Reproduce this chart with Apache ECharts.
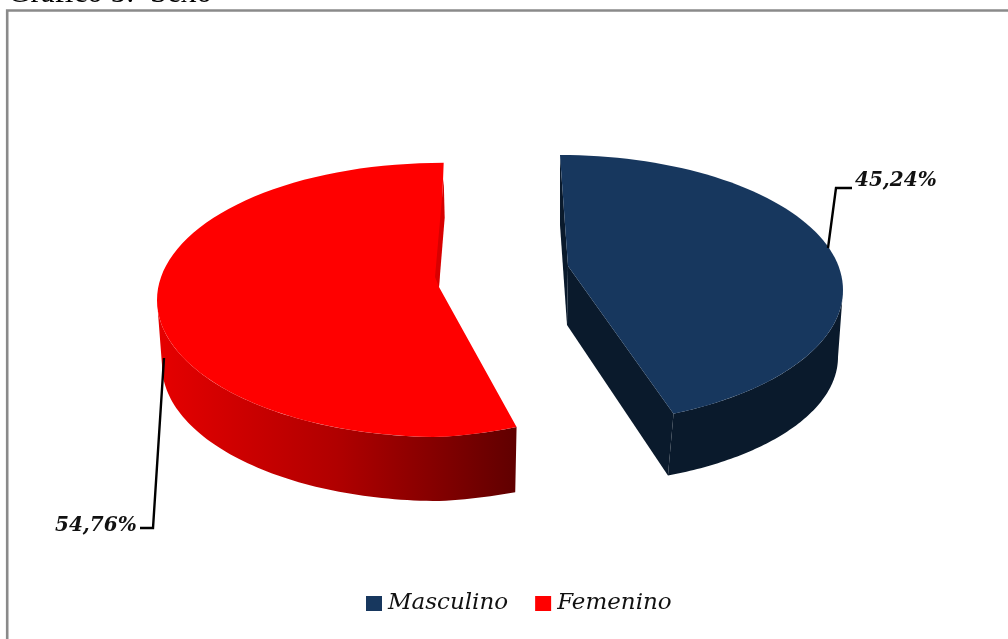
<!DOCTYPE html>
<html>
<head>
<meta charset="utf-8">
<style>html,body{margin:0;padding:0;background:#fff;overflow:hidden}#c{width:1008px;height:639px}</style>
<script src="https://cdn.jsdelivr.net/npm/echarts@6/dist/echarts.min.js"></script>
</head>
<body>
<div id="c"></div>
<script>
var categories = ['Masculino', 'Femenino'];
var values = [45.24, 54.76];
var colors = ['#17375e', '#ff0000'];
var titleText = 'Gráfico 5:  Sexo';

var total = values[0] + values[1];
var RAD = Math.PI / 180;
// drawing geometry of each tilted slice
var geo = [
  {top:{cx:560,cy:290,rx:283,ry:135,lift:0}, bot:{cx:560,cy:355,rx:278,ry:130,lift:-2}, apex:[568,266], apexBot:[567,325], start:0, warp:0.96, botExtra:0.8,
   leader:[[828,248],[836,188],[852,188]], labelPos:[855,181]},
  {top:{cx:440,cy:300,rx:283,ry:137,lift:18}, bot:{cx:440,cy:365,rx:278,ry:136,lift:14}, apex:[439,287], apexBot:[439,350], start:164.3, warp:0.9965, botExtra:0,
   leader:[[164,358],[153,528],[140,528]], labelPos:[55,526]}
];
function pt(e, t){
  var s = Math.sin(t*RAD);
  return [e.cx + e.rx*s, e.cy - e.ry*Math.cos(t*RAD) - e.lift*Math.max(0,s)];
}
function arc(e, a, b){
  var out = [], n = 80;
  for (var i=0;i<=n;i++) out.push(pt(e, a+(b-a)*i/n));
  return out;
}
function sliceItem(idx){
  return function(params, api){
    var v = api.value(0), g = geo[idx];
    var sweep = v/total*360*g.warp, a = g.start, b = g.start+sweep, bb = b + g.botExtra;
    var children = [];
    var fillStyle = {fill: colors[idx]};
    if (idx === 0) {
      var dark = '#0a1a2c';
      children.push({type:'polygon',shape:{points:[pt(g.top,a),g.apex,g.apexBot,pt(g.bot,a)]},style:{fill:dark}});
      children.push({type:'polygon',shape:{points:[g.apex,pt(g.top,b),pt(g.bot,bb),g.apexBot]},style:{fill:dark}});
      children.push({type:'polygon',shape:{points:arc(g.top,90,b).concat(arc(g.bot,bb,90))},style:{fill:dark}});
    } else {
      var grad = new echarts.graphic.LinearGradient(0,0,1,0,[
        {offset:0,color:'#e60000'},{offset:0.5,color:'#b00000'},{offset:1,color:'#600000'}]);
      children.push({type:'polygon',shape:{points:arc(g.top,a,270).concat(arc(g.bot,270,a))},style:{fill:grad}});
    }
    children.push({type:'polygon',shape:{points:[g.apex].concat(arc(g.top,a,b))},style:fillStyle});
    if (idx === 1) {
      var e = pt(g.top,b);
      children.push({type:'polygon',shape:{points:[[e[0],e[1]+16],[e[0]+1,e[1]+55],g.apex,[g.apex[0]-4,g.apex[1]-10]]},style:{fill:'#d80000'}});
    }
    children.push({type:'polyline',shape:{points:g.leader},style:{stroke:'#000',lineWidth:2.4,fill:null}});
    children.push({type:'text',x:g.labelPos[0],y:g.labelPos[1],style:{
      text:v.toFixed(2).replace('.',',')+'%',
      font:'italic bold 20px "DejaVu Serif"',fill:'#111',textAlign:'left',textVerticalAlign:'middle'}});
    return {type:'group',children:children};
  };
}
var chart = echarts.init(document.getElementById('c'), null, {renderer:'canvas'});
chart.setOption({
  animation:false,
  backgroundColor:'#fff',
  legend:{
    data:categories,left:366,top:592,icon:'rect',itemWidth:16,itemHeight:15,itemGap:27,padding:0,
    textStyle:{fontFamily:'"DejaVu Serif"',fontStyle:'italic',fontSize:23,color:'#111',padding:[0,0,0,1]}
  },
  graphic:[
    {type:'rect',shape:{x:7.2,y:10.5,width:1010,height:640},style:{fill:null,stroke:'#8a8a8a',lineWidth:2.6},silent:true},
    {type:'text',x:8,y:-22,z:10,style:{text:titleText,font:'31px "Liberation Serif"',fill:'#000',textAlign:'left',textVerticalAlign:'top'},silent:true}
  ],
  series:categories.map(function(n,i){
    return {type:'custom',name:n,coordinateSystem:'none',itemStyle:{color:colors[i]},data:[[values[i]]],renderItem:sliceItem(i),silent:true};
  })
});
</script>
</body>
</html>
